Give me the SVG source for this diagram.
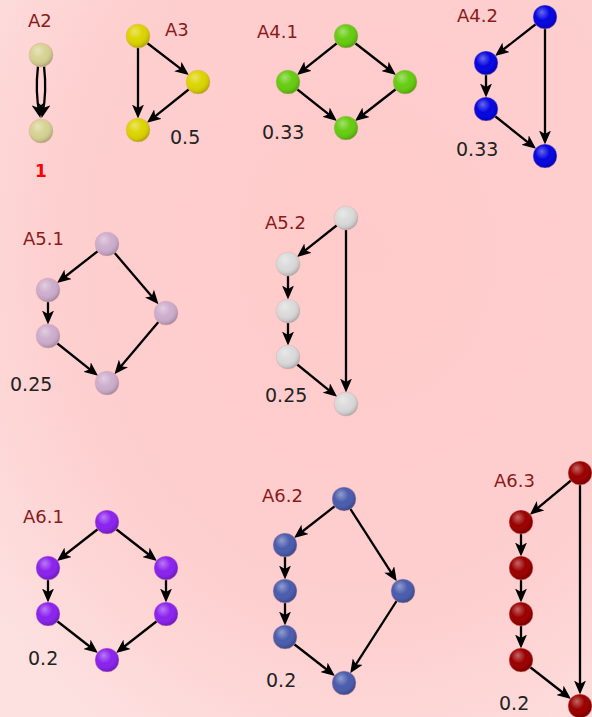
<svg xmlns="http://www.w3.org/2000/svg" width="592" height="717" viewBox="0 0 592 717">
<defs>
<radialGradient id="bg" cx="0.62" cy="0.35" r="0.8">
<stop offset="0" stop-color="#ffcaca"/>
<stop offset="0.65" stop-color="#fecfcf"/>
<stop offset="1" stop-color="#fde0e0"/>
</radialGradient>
<radialGradient id="shade" cx="0.42" cy="0.38" r="0.62" fx="0.36" fy="0.3">
<stop offset="0" stop-color="#fff" stop-opacity="0.4"/>
<stop offset="0.5" stop-color="#fff" stop-opacity="0"/>
<stop offset="0.85" stop-color="#000" stop-opacity="0.08"/>
<stop offset="1" stop-color="#000" stop-opacity="0.22"/>
</radialGradient>
<marker id="ah" viewBox="0 0 14 12" refX="10" refY="6" markerWidth="14" markerHeight="12" markerUnits="userSpaceOnUse" orient="auto">
<path d="M0,0 L14,6 L0,12 L3.5,6 z" fill="#000"/>
</marker>
<g id="ball"><circle r="12" fill="url(#shade)" stroke="#f0a8a8" stroke-opacity="0.6" stroke-width="0.8"/></g>
</defs>
<style>
.e{fill:none;stroke:#000;stroke-width:2.3;marker-end:url(#ah)}
.lbl{font-family:"DejaVu Sans",sans-serif;font-size:18px;fill:#8b1a1a}
.num{font-family:"DejaVu Sans",sans-serif;font-size:19px;fill:#222}
.c2{fill:#d6d393}.c3{fill:#dcd400}.c41{fill:#66cc11}.c42{fill:#0505e0}
.c51{fill:#cdaecd}.c52{fill:#dadada}.c61{fill:#8a22ee}.c62{fill:#4a5cad}.c63{fill:#9a0000}
</style>
<rect width="592" height="717" fill="url(#bg)"/>
<g id="connectors">
<path class="e" d="M38,66 Q35,92 39.5,114"/>
<path class="e" d="M44,66 Q47,92 42.5,114"/>
<line class="e" x1="138" y1="36" x2="138" y2="114.5"/>
<line class="e" x1="138" y1="36" x2="185.7" y2="72.6"/>
<line class="e" x1="198" y1="82" x2="150.1" y2="120.3"/>
<line class="e" x1="346" y1="36" x2="300.2" y2="72.4"/>
<line class="e" x1="346" y1="36" x2="392.8" y2="72.5"/>
<line class="e" x1="288" y1="82" x2="333.8" y2="118.4"/>
<line class="e" x1="405" y1="82" x2="358.2" y2="118.5"/>
<line class="e" x1="545" y1="17" x2="498.2" y2="53.5"/>
<line class="e" x1="486" y1="63" x2="486" y2="93.5"/>
<line class="e" x1="486" y1="109" x2="532.9" y2="146.3"/>
<line class="e" x1="545" y1="17" x2="545" y2="140.5"/>
<line class="e" x1="107" y1="244" x2="60.2" y2="280.5"/>
<line class="e" x1="48" y1="290" x2="48" y2="320.5"/>
<line class="e" x1="107" y1="244" x2="155.9" y2="301.2"/>
<line class="e" x1="48" y1="336" x2="94.9" y2="373.3"/>
<line class="e" x1="166" y1="313" x2="117" y2="371.1"/>
<line class="e" x1="346" y1="218" x2="300.2" y2="254.4"/>
<line class="e" x1="288" y1="264" x2="288" y2="295.5"/>
<line class="e" x1="288" y1="311" x2="288" y2="341.5"/>
<line class="e" x1="288" y1="357" x2="334" y2="394.3"/>
<line class="e" x1="346" y1="218" x2="346" y2="388.5"/>
<line class="e" x1="107" y1="522" x2="60.2" y2="558.5"/>
<line class="e" x1="107" y1="522" x2="153.8" y2="558.5"/>
<line class="e" x1="48" y1="568" x2="48" y2="598.5"/>
<line class="e" x1="166" y1="568" x2="166" y2="598.5"/>
<line class="e" x1="48" y1="614" x2="94.8" y2="650.5"/>
<line class="e" x1="166" y1="614" x2="119.2" y2="650.5"/>
<line class="e" x1="344" y1="499" x2="297.2" y2="535.5"/>
<line class="e" x1="285" y1="545" x2="285" y2="575.5"/>
<line class="e" x1="285" y1="591" x2="285" y2="621.5"/>
<line class="e" x1="285" y1="637" x2="331.8" y2="673.5"/>
<line class="e" x1="344" y1="499" x2="394.6" y2="577.9"/>
<line class="e" x1="403" y1="591" x2="352.4" y2="669.9"/>
<line class="e" x1="580" y1="473" x2="532.9" y2="512.1"/>
<line class="e" x1="521" y1="522" x2="521" y2="552.5"/>
<line class="e" x1="521" y1="568" x2="521" y2="598.5"/>
<line class="e" x1="521" y1="614" x2="521" y2="644.5"/>
<line class="e" x1="521" y1="660" x2="567.8" y2="696.5"/>
<line class="e" x1="580" y1="473" x2="580" y2="690.5"/>
</g>
<g id="A2">
<text class="lbl" x="28" y="27">A2</text>
<g class="c2"><circle cx="41" cy="55" r="12"/><use href="#ball" x="41" y="55"/><circle cx="41" cy="131" r="12"/><use href="#ball" x="41" y="131"/></g>
<text x="41" y="177" text-anchor="middle" font-family="DejaVu Sans, sans-serif" font-size="17" font-weight="bold" fill="#ff0000">1</text>
</g>
<g id="A3">
<text class="lbl" x="165" y="36">A3</text>
<g class="c3"><circle cx="138" cy="36" r="12"/><use href="#ball" x="138" y="36"/><circle cx="198" cy="82" r="12"/><use href="#ball" x="198" y="82"/><circle cx="138" cy="130" r="12"/><use href="#ball" x="138" y="130"/></g>
<text class="num" x="170" y="144">0.5</text>
</g>
<g id="A4.1">
<text class="lbl" x="257" y="38">A4.1</text>
<g class="c41"><circle cx="346" cy="36" r="12"/><use href="#ball" x="346" y="36"/><circle cx="288" cy="82" r="12"/><use href="#ball" x="288" y="82"/><circle cx="405" cy="82" r="12"/><use href="#ball" x="405" y="82"/><circle cx="346" cy="128" r="12"/><use href="#ball" x="346" y="128"/></g>
<text class="num" x="262" y="139">0.33</text>
</g>
<g id="A4.2">
<text class="lbl" x="457" y="22">A4.2</text>
<g class="c42"><circle cx="545" cy="17" r="12"/><use href="#ball" x="545" y="17"/><circle cx="486" cy="63" r="12"/><use href="#ball" x="486" y="63"/><circle cx="486" cy="109" r="12"/><use href="#ball" x="486" y="109"/><circle cx="545" cy="156" r="12"/><use href="#ball" x="545" y="156"/></g>
<text class="num" x="456" y="156">0.33</text>
</g>
<g id="A5.1">
<text class="lbl" x="23" y="245">A5.1</text>
<g class="c51"><circle cx="107" cy="244" r="12"/><use href="#ball" x="107" y="244"/><circle cx="48" cy="290" r="12"/><use href="#ball" x="48" y="290"/><circle cx="48" cy="336" r="12"/><use href="#ball" x="48" y="336"/><circle cx="166" cy="313" r="12"/><use href="#ball" x="166" y="313"/><circle cx="107" cy="383" r="12"/><use href="#ball" x="107" y="383"/></g>
<text class="num" x="10" y="391">0.25</text>
</g>
<g id="A5.2">
<text class="lbl" x="265" y="229">A5.2</text>
<g class="c52"><circle cx="346" cy="218" r="12"/><use href="#ball" x="346" y="218"/><circle cx="288" cy="264" r="12"/><use href="#ball" x="288" y="264"/><circle cx="288" cy="311" r="12"/><use href="#ball" x="288" y="311"/><circle cx="288" cy="357" r="12"/><use href="#ball" x="288" y="357"/><circle cx="346" cy="404" r="12"/><use href="#ball" x="346" y="404"/></g>
<text class="num" x="265" y="402">0.25</text>
</g>
<g id="A6.1">
<text class="lbl" x="23" y="523">A6.1</text>
<g class="c61"><circle cx="107" cy="522" r="12"/><use href="#ball" x="107" y="522"/><circle cx="48" cy="568" r="12"/><use href="#ball" x="48" y="568"/><circle cx="166" cy="568" r="12"/><use href="#ball" x="166" y="568"/><circle cx="48" cy="614" r="12"/><use href="#ball" x="48" y="614"/><circle cx="166" cy="614" r="12"/><use href="#ball" x="166" y="614"/><circle cx="107" cy="660" r="12"/><use href="#ball" x="107" y="660"/></g>
<text class="num" x="28" y="665">0.2</text>
</g>
<g id="A6.2">
<text class="lbl" x="262" y="502">A6.2</text>
<g class="c62"><circle cx="344" cy="499" r="12"/><use href="#ball" x="344" y="499"/><circle cx="285" cy="545" r="12"/><use href="#ball" x="285" y="545"/><circle cx="285" cy="591" r="12"/><use href="#ball" x="285" y="591"/><circle cx="285" cy="637" r="12"/><use href="#ball" x="285" y="637"/><circle cx="403" cy="591" r="12"/><use href="#ball" x="403" y="591"/><circle cx="344" cy="683" r="12"/><use href="#ball" x="344" y="683"/></g>
<text class="num" x="266" y="687">0.2</text>
</g>
<g id="A6.3">
<text class="lbl" x="494" y="487">A6.3</text>
<g class="c63"><circle cx="580" cy="473" r="12"/><use href="#ball" x="580" y="473"/><circle cx="521" cy="522" r="12"/><use href="#ball" x="521" y="522"/><circle cx="521" cy="568" r="12"/><use href="#ball" x="521" y="568"/><circle cx="521" cy="614" r="12"/><use href="#ball" x="521" y="614"/><circle cx="521" cy="660" r="12"/><use href="#ball" x="521" y="660"/><circle cx="580" cy="706" r="12"/><use href="#ball" x="580" y="706"/></g>
<text class="num" x="499" y="710">0.2</text>
</g>
</svg>
